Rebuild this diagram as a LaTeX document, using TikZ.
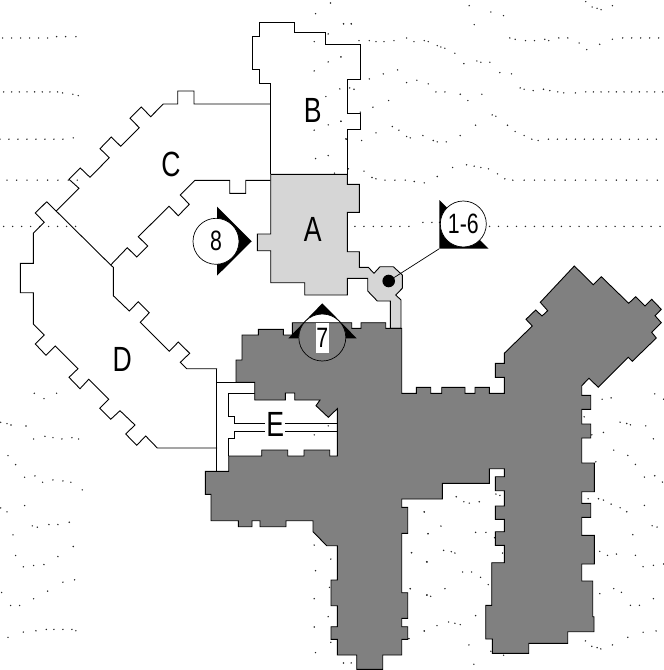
\documentclass[tikz,border=0pt]{standalone}
\usepackage{fontspec}
\setmainfont[FakeStretch=0.76]{Liberation Sans}
\tikzset{
	roomline/.style={black,line width=0.9pt},
	markerhead/.style={fill=black},
	marker/.style={circle,draw=black,line width=0.7pt,fill=white,minimum size=46pt,inner sep=0pt,font=\fontsize{28}{28}\selectfont},
	roomname/.style={inner sep=0pt,font=\fontsize{35}{35}\selectfont},
	contour/.style={fill=black!85},
	hotelpath/.style={insert path={(401.7,328.3) -- (401.7,393.3) -- (416.3,393.3) -- (416.3,387.3) -- (430.7,387.3) -- (430.7,393.3) -- (441.7,393.3) -- (441.7,387.3) -- (465,387.3) -- (465,393.3) -- (475,393.3) -- (475,387.3) -- (489.3,387.3) -- (489.3,393.3) -- (504.3,393.3) -- (504.3,377.3) -- (495.3,377.3) -- (495.3,363.3) -- (504.3,363.3) -- (504.3,353.3) -- (532.3,326) -- (526,319.3) -- (535.7,310) -- (542,316) -- (547.7,310.7) -- (540.3,302.3) -- (574.3,266) -- (593.3,284.7) -- (601.3,276.7) -- (628.7,303.3) -- (635.7,296.7) -- (645,306) -- (651.7,299.3) -- (661.3,309.3) -- (655,315.7) -- (661.3,322.7) -- (651.7,332.3) -- (656.3,338) -- (632.3,361.3) -- (628.3,357.3) -- (598.3,387.3) -- (589,378.3) -- (581.7,385.7) -- (581.7,395.3) -- (590.7,395.3) -- (590.7,409.3) -- (581.7,409.3) -- (581.7,424) -- (590.7,424) -- (590.7,438) -- (581.7,438) -- (581.7,463) -- (594.3,463) -- (594.3,491.7) -- (581.7,491.7) -- (581.7,503.3) -- (590.7,503.3) -- (590.7,517.3) -- (581.7,517.3) -- (581.7,535.3) -- (594.3,535.3) -- (594.3,564) -- (581.7,564) -- (581.7,581) -- (592.7,581) -- (592.7,616.7) -- (594,616.7) -- (594,631.7) -- (567.7,631.7) -- (567.7,643.3) -- (528.7,643.3) -- (528.7,653.3) -- (492.3,653.3) -- (492.3,639) -- (485.7,639) -- (485.7,605.3) -- (491.7,605.3) -- (491.7,562.7) -- (504.3,562.7) -- (504.3,545.3) -- (495.3,545.3) -- (495.3,531.7) -- (504.3,531.7) -- (504.3,519.3) -- (495.3,519.3) -- (495.3,506) -- (504.3,506) -- (504.3,490.7) -- (495.3,490.7) -- (495.3,476.7) -- (504.3,476.7) -- (504.3,468.7) -- (489.3,468.7) -- (489.3,483.3) -- (442.3,483.3) -- (442.3,499) -- (401.7,499) -- (401.7,507.3) -- (407.7,507.3) -- (407.7,533.3) -- (401.7,533.3) -- (401.7,592.7) -- (407.7,592.7) -- (407.7,618.3) -- (401.7,618.3) -- (401.7,626.7) -- (407.7,626.7) -- (407.7,639.3) -- (401.7,639.3) -- (401.7,655) -- (382.7,655) -- (382.7,669.3) -- (356.7,669.3) -- (356.7,655) -- (337.3,655) -- (337.3,639.3) -- (331,639.3) -- (331,626.7) -- (337.3,626.7) -- (337.3,605.7) -- (331,605.7) -- (331,580) -- (337.3,580) -- (337.3,545.7) -- (326.7,545.7) -- (313,531.7) -- (313,520.7) -- (286,520.7) -- (286,526.7) -- (260,526.7) -- (260,520.7) -- (252,520.7) -- (252,526.7) -- (238.3,526.7) -- (238.3,520.7) -- (211,520.7) -- (211,494.3) -- (205.3,494.3) -- (205.3,471.3) -- (228.7,471.3) -- (228.7,456) -- (261.7,456) -- (261.7,450) -- (287.7,450) -- (287.7,456) -- (304,456) -- (304,450) -- (329.7,450) -- (329.7,456) -- (337.3,456) -- (337.3,408.7) -- (328.3,417.3) -- (316,405.7) -- (320,400) -- (294.7,400) -- (294.7,393) -- (285.3,393) -- (285.3,400) -- (254.7,400) -- (254.7,382.3) -- (236,382.3) -- (236,360) -- (242,360) -- (242,335) -- (258.3,335) -- (258.3,329.3) -- (283.3,329.3) -- (283.3,335) -- (292.3,335) -- (292.3,322.7) -- (351.7,322.7) -- (351.7,328.3) -- (361,328.3) -- (361,322.7) -- (385.7,322.7) -- (385.7,328.3) -- cycle}},
	hotel/.style={hotelpath,draw=black,line width=0.9pt,fill=black!50}
}
\begin{document}
\begin{tikzpicture}[x=1pt,y=-1pt]
	\useasboundingbox (0,0) rectangle (664,670);
	\begin{scope}[shift={(340,0)},x=0.333pt,y=-0.333pt]
		\foreach \x/\y in {57/122,88/122,108/125,132/125,162/122,200/114,222/125,253/122,265/125,292/137,303/141,315/145,345/160,372/191,411/183,423/187,450/187,480/218,515/222,541/264,553/268,580/272,611/268,630/272,654/276,672/279,707/279,738/276,761/276,784/276,807/276,830/276,853/276,876/276,899/276,922/276,945/276,969/276,88/237,130/222,173/210,200/248,231/241,265/252,288/276,315/276,361/283,384/302,426/283,65/422,108/399,157/380,177/391,200/410,211/414,249/407,280/422,292/426,319/426,361/407,407/376,457/345,468/349,503/376,526/395,553/407,576/418,595/422,626/418,653/418,680/418,707/418,734/418,761/418,788/418,815/418,842/418,869/418,896/418,923/418,950/418,72/514,96/533,108/537,135/541,165/541,196/541,223/545,253/549,292/530,338/503,380/495,403/499,423/503,446/507,473/522,495/537,519/541,553/541,584/541,615/541,645/541,676/541,707/541,738/541,768/541,799/541,830/541,860/541,891/541,922/541,953/541,45/680,72/680,100/680,126/680,153/680,180/680,207/680,249/668,276/668,299/668,449/680,476/680,503/680,530/680,557/680,584/680,611/680,638/680,665/680,691/680,718/680,745/680,772/680,799/680,826/680,853/680,880/680,907/680,934/680,961/680,388/17,453/36,491/47,403/74,738/5,757/21,772/25,784/29,818/17,510/114,526/118,557/122,584/122,615/118,627/122,657/114,684/114,718/129,741/149,780/133,818/118,849/114,876/114,903/114,930/114,957/114,11/72,34/72,3/171,29/264,42/268,99/322,146/302,3/364,19/418,25/507,61/337}
			\fill[contour] (\x,\y) circle (0.8pt);
	\end{scope}
	\begin{scope}[shift={(200,0)},x=0.333pt,y=-0.333pt]
		\foreach \x/\y in {392/9,347/41,431/71,454/71,385/102,343/125,423/171,385/186,343/213,420/267,378/290,385/375,343/391,423/364,347/476,385/467,404/520,438/417}
			\fill[contour] (\x,\y) circle (0.8pt);
	\end{scope}
	\begin{scope}[x=0.333pt,y=-0.333pt]
		\foreach \x/\y in {8/114,35/114,62/114,89/114,116/114,143/114,170/110,197/110,228/110,11/276,35/276,58/276,81/276,104/276,127/276,150/276,173/276,188/279,219/283,235/287,0/418,27/418,54/418,81/418,108/418,135/418,162/418,189/418,220/414,21/541,50/541,81/541,112/541,143/541,174/541,205/541,232/541,11/680,38/680,65/680,92/680,119/680,146/680,173/680,200/680,227/680,103/1181,132/1197,170/1181}
			\fill[contour] (\x,\y) circle (0.8pt);
	\end{scope}
	\begin{scope}[shift={(0,400)},x=0.333pt,y=-0.333pt]
		\foreach \x/\y in {2/67,21/71,33/75,78/78,101/117,135/109,159/113,186/117,216/113,236/117,24/167,47/194,74/232,105/228,128/247,159/240,189/243,213/247,247/270,2/324,21/336,74/317,97/378,112/382,147/374,174/374,208/367,39/405,220/440,47/467,70/501,101/497,132/494,174/470,5/578,32/617,59/617,101/597,143/574,189/547,224/540,24/713,70/697,108/693,139/689,162/689,189/689,216/689,228/693}
			\fill[contour] (\x,\y) circle (0.8pt);
	\end{scope}
	\begin{scope}[shift={(190,300)},x=0.333pt,y=-0.333pt]
		\foreach \x/\y in {415/378,373/405,373/736,423/778,377/813,419/863,373/897,415/951,373/982,423/1028,377/1059,461/1090,484/1090,703/636,715/702,665/759,711/786,661/867,711/886,703/994,657/1017}
			\fill[contour] (\x,\y) circle (0.8pt);
	\end{scope}
	\begin{scope}[shift={(400,250)},x=0.333pt,y=-0.333pt]
		\foreach \x/\y in {169/741,192/756,208/760,238/756,288/733,300/737,73/787,123/829,84/852,227/848,258/848,284/864,35/909,131/902,154/906,165/910,308/910,81/937,188/967,215/967,242/983,265/1005,31/1017,135/1017,81/1036,92/1040,227/1098,146/1117,165/1121,181/1125,111/1128,73/1144,27/1167,207/1186,222/1244,311/1217,273/1205,607/448,634/444,765/432,792/448,553/501,661/517,681/521,692/525,738/528,576/555,611/548,761/567,642/601,684/617,707/644,588/636,734/682,765/678,788/697,565/747,596/747,611/751,634/763,661/774,681/786,734/767,757/828,772/832,699/855,600/905,623/917,650/913,707/917,730/951,761/947,792/943,642/1017,665/1028,600/1032,761/1047,692/1067,719/1067,730/1148,769/1144,684/1163,557/1174,576/1190,592/1194,603/1198,638/1186}
			\fill[contour] (\x,\y) circle (0.8pt);
	\end{scope}
	\draw [roomline] (270.7,174.3) -- (270.7,83.3) -- (259.3,83.3) -- (259.3,69.7) -- (252.3,69.7) -- (252.3,36.7) -- (259.3,36.7) -- (259.3,22.7) -- (294.7,22.7) -- (294.7,32.7) -- (325.3,32.7) -- (325.3,44) -- (360,44) -- (360,79.7) -- (347.3,79.7) -- (347.3,113.3) -- (360.7,113.3) -- (360.7,129.3) -- (347.3,129.3) -- (347.3,174.3);
	\draw [roomline] (270.7,104) -- (194,104) -- (194,91) -- (177.7,91) -- (177.7,104) -- (163.3,104) -- (150.7,116.7) -- (141.3,107) -- (130,118.3) -- (139.3,127.7) -- (120.7,146.3) -- (111.3,137) -- (100,148.7) -- (109.3,157.7) -- (90,177.3) -- (80.3,168) -- (69,179.3) -- (79,188.3) -- (56.3,211);
	\draw [roomline] (110.7,265) -- (127.3,247.7) -- (136.7,257) -- (147.7,246) -- (138.3,236.7) -- (169,206.3) -- (178.3,215.7) -- (189.3,204.3) -- (180.3,195) -- (195,180.3) -- (229.7,180.3) -- (229.7,193.3) -- (245.7,193.3) -- (245.7,180.3) -- (270.7,180.3);
	\draw [roomline] (46.7,201.7) -- (110.7,265);
	\draw [roomline] (46.7,201.7) -- (35.3,213) -- (44.3,222.3) -- (33.3,233.3) -- (33.3,263.3) -- (20.3,263.3) -- (20.3,292.7) -- (33.3,292.7) -- (33.3,324) -- (44.3,335) -- (35.3,344) -- (46,355.3) -- (55.3,346) -- (78,368.7) -- (69,377.3) -- (80,388.7) -- (88.7,379.3) -- (108.7,399.3) -- (99.7,408.3) -- (110.7,419.3) -- (120,410.7) -- (135,425) -- (125.7,434) -- (136.7,445.3) -- (145.7,436) -- (157.3,448) -- (217,448);
	\draw [roomline] (110.7,265) -- (113.3,267.3) -- (113.3,295.7) -- (129.3,311) -- (138.3,301.7) -- (149.3,312.7) -- (140.3,322.3) -- (169.3,351.3) -- (178.3,342) -- (189.7,353.3) -- (180.3,362.3) -- (186.7,368.7) -- (217,368.7);
	\draw [roomline] (216.7,368.7) -- (216.7,471.3);
	\draw [roomline] (216.7,382.3) -- (254.7,382.3);
	\draw [roomline] (228.7,456) -- (228.7,438.3) -- (234.3,438.3) -- (234.3,431.3) -- (337.3,431.3);
	\draw [roomline] (337.3,423.3) -- (234.3,423.3) -- (234.3,416.7) -- (228.7,416.7) -- (228.7,393) -- (254.7,393);
	\draw [roomline,fill=black!16] (270.7,174.3) -- (347.3,174.3) -- (347.3,184.3) -- (359.3,184.3) -- (359.3,212.3) -- (347.3,212.3) -- (347.3,251.7) -- (359.3,251.7) -- (359.3,267.3) -- (368.3,267.3) -- (374,273.3) -- (380,266.7) -- (393.3,266.7) -- (402.3,275) -- (402.3,288.3) -- (395.7,295) -- (401,300) -- (401,328.3) -- (390.3,328.3) -- (390.3,301) -- (377.3,301) -- (367.7,291) -- (367.7,278.3) -- (347.3,278.3) -- (347.3,295) -- (304.7,295) -- (304.7,282.7) -- (270.7,282.7) -- (270.7,250.7) -- (257.3,250.7) -- (257.3,234) -- (270.7,234) -- cycle;
	\draw [hotel];
	\node [circle,fill=black,minimum size=12.6pt,inner sep=0pt] (hub) at (388.7,281) {};
	\coordinate (corner16) at (439.3,248.7);
	\draw [black,line width=0.7pt] (hub) -- (corner16);
	\fill [markerhead] (439.3,200) -- (corner16) -- (488.7,248.7) -- cycle;
	\fill [markerhead] (217,206.7) -- (251.7,241.3) -- (217,275.7) -- cycle;
	\fill [markerhead] (322.3,303.3) -- (356.7,338.3) -- (288.3,338.3) -- cycle;
	\node [marker] (view16) at (463.3,224) {1-6};
	\node [marker] (view8) at (216,241.3) {8};
	\begin{scope}
		\clip (322.3,337.5) circle (23.5pt);
		\fill [white] (322.3,337.5) circle (23.5pt);
		\draw [hotel];
	\end{scope}
	\node [circle,draw=black,line width=0.7pt,minimum size=47pt,inner sep=0pt] (view7) at (322.3,337.5) {};
	\node [fill=white,minimum width=12.7pt,minimum height=30.6pt,inner sep=0pt,font=\fontsize{28}{28}\selectfont] (label7) at (322.3,338) {7};
	\node [roomname] (roomA) at (312.7,229.3) {A};
	\node [roomname] (roomB) at (312.7,110) {B};
	\node [roomname] (roomC) at (171,164.3) {C};
	\node [roomname] (roomD) at (122.3,359.3) {D};
	\node [roomname,fill=white,inner xsep=1pt,inner ysep=0pt] (roomE) at (275.3,424) {E};
\end{tikzpicture}
\end{document}
